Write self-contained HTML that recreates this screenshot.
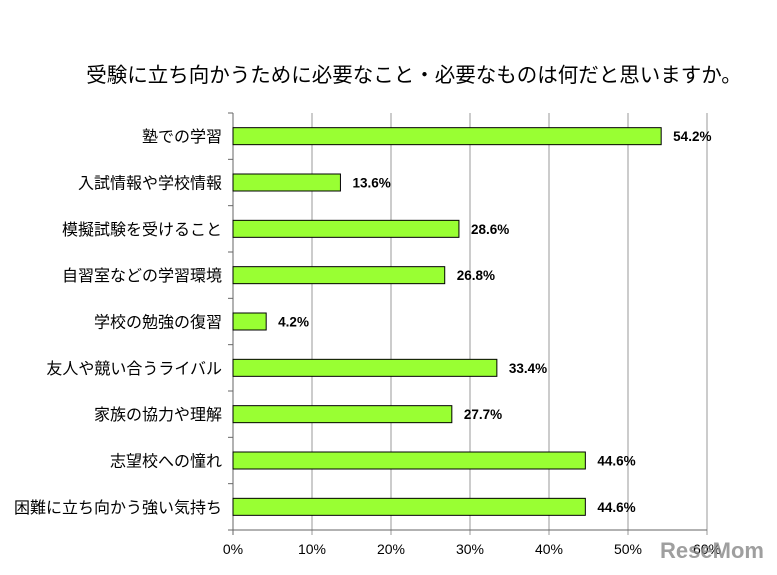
<!DOCTYPE html>
<html><head><meta charset="utf-8"><style>
body{margin:0;background:#fff;width:777px;height:570px;overflow:hidden;font-family:"Liberation Sans","Noto Sans CJK JP",sans-serif}
</style></head><body>
<svg id="chart" width="777" height="570" xmlns="http://www.w3.org/2000/svg">
<text x="414" y="82" text-anchor="middle" font-size="20.5" font-family="Liberation Sans, Noto Sans CJK JP, sans-serif" fill="#000">受験に立ち向かうために必要なこと・必要なものは何だと思いますか。</text>
<g id="grid"></g><g id="bars"></g><g id="labels"></g>
<text x="712" y="558" text-anchor="middle" font-size="22" font-weight="bold" fill="#888" opacity="0.8" font-family="Liberation Sans, sans-serif">ReseMom</text>
</svg>
<script>
const categories=["塾での学習","入試情報や学校情報","模擬試験を受けること","自習室などの学習環境","学校の勉強の復習","友人や競い合うライバル","家族の協力や理解","志望校への憧れ","困難に立ち向かう強い気持ち"];
const values=[54.2,13.6,28.6,26.8,4.2,33.4,27.7,44.6,44.6];
const ticks=[0,10,20,30,40,50,60];
const NS="http://www.w3.org/2000/svg";
const x0=233,x1=707,yTop=113,yBot=530,xMax=60;
const xs=v=>x0+(x1-x0)*v/xMax;
const band=(yBot-yTop)/categories.length;
const yc=i=>yTop+band*(i+0.5);
function mk(t,a,p){const e=document.createElementNS(NS,t);for(const k in a)e.setAttribute(k,a[k]);p.appendChild(e);return e;}
const g=document.getElementById('grid'),b=document.getElementById('bars'),l=document.getElementById('labels');
ticks.forEach(t=>{
 const ln=mk('line',{x1:xs(t),x2:xs(t),y1:yTop,y2:yBot+5,stroke:t===0?'#666':'#999','stroke-width':1},g);
 
 
 const tx=mk('text',{x:xs(t),y:554,'text-anchor':'middle','font-size':14,fill:'#000'},l);
 tx.textContent=t+'%';
 
 
});
const ax=mk('line',{x1:x0-5,x2:x1,y1:yBot,y2:yBot,stroke:'#666'},g);


for(let i=0;i<=categories.length;i++){
 const tk=mk('line',{x1:x0-5,x2:x0,y1:yTop+band*i,y2:yTop+band*i,stroke:'#666'},g);
 
 
}
categories.forEach((c,i)=>{
 const r=mk('rect',{x:x0,y:yc(i)-8.5,width:xs(values[i])-x0,height:17,fill:'#99ff33',stroke:'#000','stroke-width':1},b);
 
 
 const ct=mk('text',{x:222,y:yc(i)+6,'text-anchor':'end','font-size':16,fill:'#000'},l);
 ct.textContent=c;
 
 
 const vt=mk('text',{x:xs(values[i])+12,y:yc(i)+5,'font-size':13.5,'font-weight':'bold',fill:'#000'},l);
 vt.textContent=values[i].toFixed(1)+'%';
 
 
});
</script>
</body></html>
